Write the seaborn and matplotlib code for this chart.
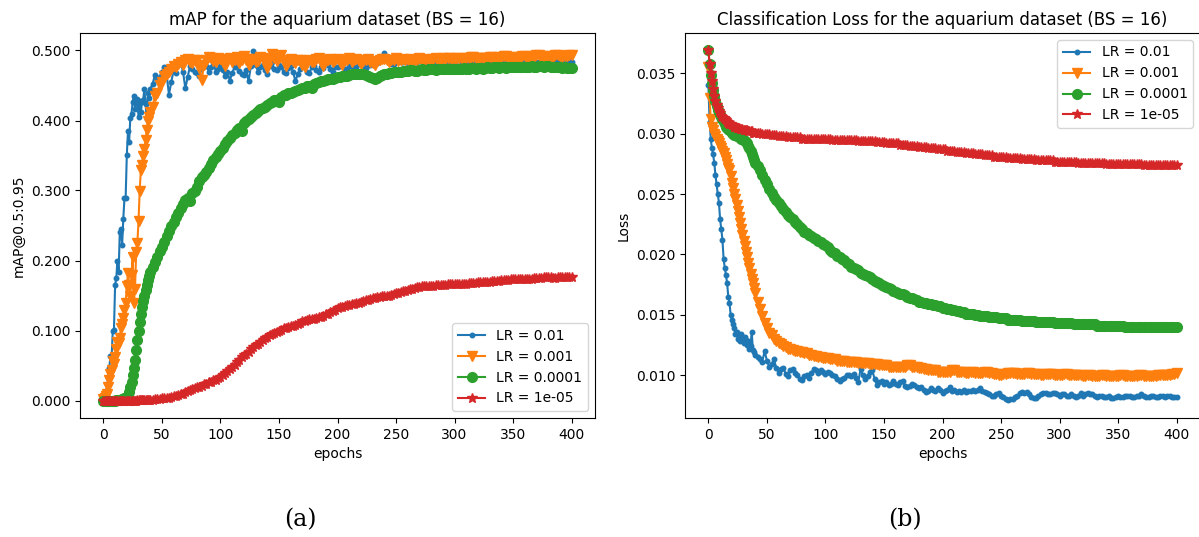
import matplotlib
matplotlib.use("Agg")
import matplotlib.pyplot as plt
import seaborn as sns
from matplotlib.ticker import FormatStrFormatter

# epochs: every epoch up to 39, then every 2nd epoch
epochs = list(range(0, 40)) + list(range(40, 401, 2))

labels = ["LR = 0.01", "LR = 0.001", "LR = 0.0001", "LR = 1e-05"]
markers = [".", "v", "o", "*"]
colors = ["#1f77b4", "#ff7f0e", "#2ca02c", "#d62728"]
msizes = [6.5, 7, 7, 7]

# mAP@0.5:0.95
map_lr_01 = [
    0.000, 0.000, 0.004, 0.015, 0.034, 0.046, 0.064, 0.062, 0.100, 0.101,
    0.165, 0.175, 0.200, 0.183, 0.241, 0.245, 0.222, 0.260, 0.289, 0.290,
    0.351, 0.385, 0.370, 0.404, 0.410, 0.427, 0.435, 0.416, 0.425, 0.431,
    0.405, 0.428, 0.412, 0.426, 0.430, 0.445, 0.424, 0.402, 0.440, 0.432,
    # 40..398 step 2
    0.445, 0.452, 0.465, 0.458, 0.462, 0.470, 0.476, 0.466, 0.437, 0.455,
    0.472, 0.468, 0.480, 0.483, 0.470, 0.446, 0.462, 0.478, 0.474, 0.470,
    0.468, 0.463, 0.475, 0.483, 0.478, 0.470, 0.476, 0.484, 0.470, 0.474,
    0.478, 0.472, 0.464, 0.470, 0.457, 0.468, 0.476, 0.481, 0.471, 0.466,
    0.465, 0.472, 0.456, 0.478, 0.500, 0.480, 0.470, 0.476, 0.480, 0.472,
    0.466, 0.478, 0.483, 0.474, 0.472, 0.479, 0.477, 0.470, 0.468, 0.475,
    0.478, 0.470, 0.456, 0.466, 0.474, 0.480, 0.479, 0.470, 0.468, 0.476,
    0.478, 0.472, 0.470, 0.477, 0.475, 0.482, 0.480, 0.474, 0.470, 0.476,
    0.476, 0.480, 0.479, 0.473, 0.472, 0.478, 0.478, 0.474, 0.477, 0.481,
    0.483, 0.478, 0.475, 0.480, 0.480, 0.484, 0.486, 0.482, 0.490, 0.486,
    0.496, 0.488, 0.484, 0.481, 0.481, 0.485, 0.487, 0.483, 0.484, 0.486,
    0.482, 0.485, 0.486, 0.483, 0.483, 0.486, 0.485, 0.482, 0.482, 0.485,
    0.486, 0.484, 0.484, 0.482, 0.483, 0.486, 0.487, 0.485, 0.485, 0.483,
    0.484, 0.486, 0.486, 0.484, 0.483, 0.485, 0.485, 0.483, 0.487, 0.485,
    0.484, 0.482, 0.486, 0.485, 0.483, 0.486, 0.485, 0.487, 0.488, 0.485,
    0.484, 0.486, 0.486, 0.484, 0.483, 0.485, 0.485, 0.483, 0.487, 0.486,
    0.484, 0.485, 0.486, 0.484, 0.485, 0.483, 0.483, 0.485, 0.486, 0.484,
    0.484, 0.486, 0.487, 0.485, 0.485, 0.484, 0.483, 0.485, 0.486, 0.485,
    0.484,
]
map_lr_001 = [
    0.002, 0.004, 0.006, 0.010, 0.020, 0.030, 0.038, 0.044, 0.056, 0.052,
    0.062, 0.073, 0.084, 0.082, 0.090, 0.103, 0.110, 0.118, 0.129, 0.140,
    0.163, 0.182, 0.165, 0.150, 0.180, 0.205, 0.139, 0.160, 0.212, 0.225,
    0.256, 0.300, 0.330, 0.337, 0.350, 0.360, 0.372, 0.387, 0.400, 0.405,
    # 40..398 step 2
    0.412, 0.420, 0.435, 0.440, 0.451, 0.455, 0.463, 0.466, 0.470, 0.474,
    0.478, 0.476, 0.481, 0.484, 0.480, 0.486, 0.488, 0.484, 0.482, 0.487,
    0.486, 0.475, 0.458, 0.480, 0.487, 0.491, 0.490, 0.485, 0.484, 0.489,
    0.488, 0.484, 0.478, 0.486, 0.490, 0.483, 0.486, 0.491, 0.482, 0.487,
    0.492, 0.486, 0.480, 0.488, 0.488, 0.483, 0.485, 0.491, 0.490, 0.484,
    0.475, 0.488, 0.495, 0.489, 0.485, 0.490, 0.494, 0.486, 0.478, 0.484,
    0.488, 0.485, 0.482, 0.487, 0.486, 0.480, 0.476, 0.484, 0.487, 0.483,
    0.484, 0.488, 0.489, 0.484, 0.478, 0.485, 0.486, 0.488, 0.483, 0.486,
    0.488, 0.484, 0.480, 0.486, 0.487, 0.489, 0.484, 0.487, 0.488, 0.485,
    0.481, 0.485, 0.486, 0.488, 0.484, 0.482, 0.480, 0.485, 0.486, 0.488,
    0.488, 0.486, 0.484, 0.487, 0.487, 0.489, 0.485, 0.486, 0.488, 0.487,
    0.486, 0.488, 0.484, 0.486, 0.487, 0.489, 0.485, 0.487, 0.488, 0.486,
    0.486, 0.488, 0.489, 0.487, 0.487, 0.489, 0.488, 0.490, 0.490, 0.488,
    0.488, 0.490, 0.490, 0.488, 0.487, 0.489, 0.489, 0.491, 0.491, 0.489,
    0.488, 0.490, 0.490, 0.489, 0.489, 0.491, 0.491, 0.490, 0.489, 0.491,
    0.490, 0.492, 0.492, 0.490, 0.489, 0.491, 0.491, 0.490, 0.490, 0.492,
    0.492, 0.491, 0.490, 0.492, 0.491, 0.493, 0.493, 0.491, 0.490, 0.492,
    0.492, 0.491, 0.491, 0.493, 0.493, 0.492, 0.491, 0.492, 0.492, 0.493,
    0.493,
]
map_lr_0001 = [
    0.000, 0.000, 0.000, 0.000, 0.000, 0.000, 0.000, 0.000, 0.000, 0.000,
    0.000, 0.001, 0.001, 0.001, 0.001, 0.001, 0.002, 0.002, 0.003, 0.003,
    0.004, 0.007, 0.012, 0.019, 0.027, 0.036, 0.046, 0.058, 0.072, 0.086,
    0.100, 0.112, 0.123, 0.133, 0.142, 0.150, 0.158, 0.165, 0.172, 0.178,
    # 40..398 step 2
    0.184, 0.191, 0.198, 0.205, 0.213, 0.220, 0.227, 0.235, 0.242, 0.249,
    0.255, 0.262, 0.268, 0.275, 0.281, 0.286, 0.290, 0.285, 0.296, 0.300,
    0.305, 0.313, 0.320, 0.322, 0.326, 0.332, 0.338, 0.343, 0.348, 0.352,
    0.357, 0.361, 0.366, 0.371, 0.375, 0.379, 0.382, 0.386, 0.390, 0.385,
    0.396, 0.399, 0.402, 0.405, 0.408, 0.411, 0.413, 0.416, 0.418, 0.420,
    0.422, 0.425, 0.427, 0.429, 0.430, 0.426, 0.434, 0.436, 0.437, 0.439,
    0.440, 0.441, 0.442, 0.444, 0.445, 0.446, 0.447, 0.449, 0.450, 0.446,
    0.452, 0.454, 0.455, 0.456, 0.457, 0.458, 0.459, 0.460, 0.460, 0.461,
    0.462, 0.462, 0.463, 0.464, 0.464, 0.465, 0.466, 0.466, 0.467, 0.467,
    0.466, 0.466, 0.465, 0.464, 0.462, 0.461, 0.460, 0.461, 0.463, 0.465,
    0.466, 0.467, 0.468, 0.468, 0.469, 0.469, 0.470, 0.470, 0.471, 0.471,
    0.471, 0.472, 0.472, 0.471, 0.471, 0.472, 0.473, 0.472, 0.472, 0.473,
    0.473, 0.473, 0.472, 0.473, 0.474, 0.474, 0.473, 0.473, 0.474, 0.474,
    0.474, 0.474, 0.473, 0.474, 0.475, 0.474, 0.474, 0.475, 0.475, 0.474,
    0.475, 0.475, 0.474, 0.475, 0.476, 0.475, 0.475, 0.476, 0.476, 0.475,
    0.476, 0.476, 0.475, 0.476, 0.476, 0.477, 0.476, 0.476, 0.477, 0.477,
    0.476, 0.477, 0.477, 0.478, 0.477, 0.477, 0.478, 0.478, 0.477, 0.478,
    0.478, 0.477, 0.477, 0.476, 0.476, 0.476, 0.475, 0.476, 0.475, 0.475,
    0.475,
]
map_lr_00001 = [
    0.000, 0.000, 0.000, 0.000, 0.000, 0.000, 0.000, 0.000, 0.000, 0.000,
    0.000, 0.000, 0.000, 0.000, 0.000, 0.000, 0.000, 0.000, 0.000, 0.000,
    0.000, 0.000, 0.000, 0.000, 0.000, 0.000, 0.000, 0.000, 0.000, 0.001,
    0.001, 0.001, 0.001, 0.001, 0.001, 0.001, 0.001, 0.001, 0.001, 0.001,
    # 40..398 step 2
    0.001, 0.001, 0.002, 0.002, 0.002, 0.003, 0.003, 0.004, 0.004, 0.005,
    0.006, 0.007, 0.008, 0.009, 0.010, 0.012, 0.013, 0.015, 0.016, 0.018,
    0.019, 0.020, 0.021, 0.023, 0.024, 0.026, 0.027, 0.029, 0.030, 0.032,
    0.034, 0.036, 0.039, 0.042, 0.045, 0.048, 0.051, 0.055, 0.058, 0.062,
    0.065, 0.067, 0.070, 0.073, 0.076, 0.079, 0.081, 0.084, 0.086, 0.089,
    0.091, 0.093, 0.095, 0.097, 0.098, 0.100, 0.101, 0.103, 0.104, 0.105,
    0.106, 0.107, 0.108, 0.110, 0.111, 0.113, 0.114, 0.115, 0.116, 0.116,
    0.117, 0.118, 0.119, 0.120, 0.121, 0.123, 0.124, 0.126, 0.128, 0.130,
    0.132, 0.133, 0.134, 0.135, 0.136, 0.137, 0.138, 0.138, 0.139, 0.140,
    0.141, 0.142, 0.143, 0.144, 0.145, 0.146, 0.147, 0.148, 0.148, 0.149,
    0.149, 0.150, 0.150, 0.151, 0.152, 0.153, 0.154, 0.155, 0.156, 0.157,
    0.158, 0.159, 0.160, 0.161, 0.162, 0.162, 0.163, 0.163, 0.163, 0.164,
    0.164, 0.164, 0.165, 0.165, 0.165, 0.165, 0.165, 0.166, 0.166, 0.166,
    0.166, 0.166, 0.167, 0.167, 0.167, 0.167, 0.168, 0.168, 0.168, 0.168,
    0.169, 0.169, 0.169, 0.170, 0.170, 0.170, 0.171, 0.171, 0.171, 0.171,
    0.172, 0.172, 0.172, 0.172, 0.173, 0.173, 0.173, 0.173, 0.174, 0.174,
    0.174, 0.174, 0.174, 0.174, 0.175, 0.175, 0.175, 0.175, 0.176, 0.176,
    0.176, 0.176, 0.175, 0.175, 0.176, 0.176, 0.177, 0.177, 0.176, 0.176,
    0.176,
]

# classification loss
loss_lr_01 = [
    0.0340, 0.0310, 0.0296, 0.0288, 0.0283, 0.0276, 0.0266, 0.0258, 0.0250, 0.0243,
    0.0229, 0.0221, 0.0212, 0.0196, 0.0189, 0.0183, 0.0176, 0.0165, 0.0160, 0.0150,
    0.0146, 0.0142, 0.0139, 0.0134, 0.0136, 0.0130, 0.0133, 0.0128, 0.0134, 0.0131,
    0.0127, 0.0132, 0.0129, 0.0125, 0.0128, 0.0122, 0.0124, 0.0136, 0.0121, 0.0119,
    # 40..398 step 2
    0.0117, 0.0115, 0.0113, 0.0111, 0.0120, 0.0112, 0.0107, 0.0109, 0.0113, 0.0106,
    0.0102, 0.0105, 0.0106, 0.0101, 0.0099, 0.0104, 0.0105, 0.0102, 0.0100, 0.0097,
    0.0096, 0.0099, 0.0100, 0.0098, 0.0102, 0.0105, 0.0104, 0.0102, 0.0104, 0.0103,
    0.0101, 0.0103, 0.0102, 0.0100, 0.0099, 0.0097, 0.0095, 0.0097, 0.0098, 0.0100,
    0.0100, 0.0099, 0.0101, 0.0098, 0.0094, 0.0105, 0.0100, 0.0097, 0.0099, 0.0103,
    0.0104, 0.0097, 0.0092, 0.0094, 0.0095, 0.0093, 0.0094, 0.0092, 0.0093, 0.0095,
    0.0093, 0.0092, 0.0094, 0.0095, 0.0091, 0.0090, 0.0091, 0.0093, 0.0092, 0.0090,
    0.0089, 0.0090, 0.0088, 0.0086, 0.0087, 0.0089, 0.0088, 0.0087, 0.0089, 0.0088,
    0.0085, 0.0087, 0.0088, 0.0090, 0.0087, 0.0088, 0.0086, 0.0087, 0.0086, 0.0088,
    0.0086, 0.0087, 0.0087, 0.0088, 0.0087, 0.0088, 0.0089, 0.0087, 0.0086, 0.0085,
    0.0084, 0.0083, 0.0083, 0.0084, 0.0085, 0.0083, 0.0082, 0.0080, 0.0079, 0.0080,
    0.0080, 0.0082, 0.0083, 0.0085, 0.0086, 0.0085, 0.0086, 0.0084, 0.0082, 0.0081,
    0.0081, 0.0083, 0.0084, 0.0085, 0.0085, 0.0084, 0.0084, 0.0085, 0.0085, 0.0084,
    0.0083, 0.0084, 0.0084, 0.0083, 0.0083, 0.0084, 0.0083, 0.0082, 0.0083, 0.0085,
    0.0083, 0.0084, 0.0085, 0.0084, 0.0084, 0.0083, 0.0082, 0.0083, 0.0083, 0.0082,
    0.0082, 0.0083, 0.0081, 0.0081, 0.0082, 0.0083, 0.0082, 0.0082, 0.0083, 0.0083,
    0.0083, 0.0082, 0.0082, 0.0083, 0.0083, 0.0084, 0.0083, 0.0082, 0.0082, 0.0083,
    0.0083, 0.0082, 0.0082, 0.0083, 0.0083, 0.0082, 0.0083, 0.0083, 0.0082, 0.0082,
    0.0082,
]
loss_lr_001 = [
    0.0355, 0.0330, 0.0312, 0.0306, 0.0303, 0.0300, 0.0298, 0.0296, 0.0294, 0.0292,
    0.0290, 0.0288, 0.0286, 0.0284, 0.0281, 0.0278, 0.0275, 0.0272, 0.0270, 0.0265,
    0.0259, 0.0255, 0.0250, 0.0246, 0.0241, 0.0236, 0.0231, 0.0226, 0.0221, 0.0216,
    0.0211, 0.0207, 0.0202, 0.0198, 0.0193, 0.0189, 0.0184, 0.0180, 0.0176, 0.0172,
    # 40..398 step 2
    0.0168, 0.0161, 0.0155, 0.0149, 0.0143, 0.0139, 0.0135, 0.0133, 0.0130, 0.0128,
    0.0127, 0.0126, 0.0124, 0.0123, 0.0122, 0.0122, 0.0121, 0.0120, 0.0120, 0.0119,
    0.0119, 0.0118, 0.0118, 0.0117, 0.0117, 0.0116, 0.0116, 0.0115, 0.0115, 0.0114,
    0.0114, 0.0114, 0.0113, 0.0113, 0.0113, 0.0112, 0.0112, 0.0112, 0.0112, 0.0111,
    0.0111, 0.0111, 0.0111, 0.0111, 0.0110, 0.0110, 0.0110, 0.0110, 0.0110, 0.0109,
    0.0109, 0.0109, 0.0109, 0.0108, 0.0108, 0.0108, 0.0108, 0.0107, 0.0107, 0.0107,
    0.0107, 0.0107, 0.0107, 0.0107, 0.0107, 0.0108, 0.0108, 0.0107, 0.0107, 0.0107,
    0.0106, 0.0106, 0.0105, 0.0105, 0.0104, 0.0104, 0.0104, 0.0104, 0.0103, 0.0103,
    0.0103, 0.0103, 0.0103, 0.0103, 0.0104, 0.0104, 0.0103, 0.0103, 0.0103, 0.0103,
    0.0102, 0.0102, 0.0103, 0.0103, 0.0102, 0.0102, 0.0102, 0.0102, 0.0103, 0.0103,
    0.0102, 0.0102, 0.0101, 0.0101, 0.0100, 0.0100, 0.0101, 0.0101, 0.0102, 0.0102,
    0.0102, 0.0102, 0.0101, 0.0101, 0.0101, 0.0101, 0.0102, 0.0102, 0.0101, 0.0101,
    0.0101, 0.0101, 0.0100, 0.0100, 0.0101, 0.0101, 0.0101, 0.0101, 0.0100, 0.0100,
    0.0100, 0.0100, 0.0101, 0.0101, 0.0100, 0.0100, 0.0100, 0.0100, 0.0100, 0.0100,
    0.0099, 0.0099, 0.0100, 0.0100, 0.0099, 0.0099, 0.0099, 0.0099, 0.0100, 0.0100,
    0.0099, 0.0099, 0.0099, 0.0099, 0.0099, 0.0099, 0.0100, 0.0100, 0.0099, 0.0099,
    0.0099, 0.0099, 0.0099, 0.0099, 0.0100, 0.0100, 0.0099, 0.0099, 0.0099, 0.0099,
    0.0099, 0.0099, 0.0100, 0.0100, 0.0100, 0.0100, 0.0100, 0.0100, 0.0101, 0.0101,
    0.0102,
]
loss_lr_0001 = [
    0.0369, 0.0358, 0.0349, 0.0342, 0.0336, 0.0331, 0.0327, 0.0323, 0.0320, 0.0318,
    0.0316, 0.0314, 0.0312, 0.0310, 0.0308, 0.0306, 0.0305, 0.0304, 0.0303, 0.0302,
    0.0301, 0.0300, 0.0299, 0.0299, 0.0298, 0.0298, 0.0297, 0.0297, 0.0296, 0.0296,
    0.0295, 0.0294, 0.0293, 0.0292, 0.0290, 0.0288, 0.0286, 0.0283, 0.0281, 0.0278,
    # 40..398 step 2
    0.0276, 0.0273, 0.0270, 0.0266, 0.0262, 0.0258, 0.0254, 0.0251, 0.0248, 0.0245,
    0.0243, 0.0240, 0.0238, 0.0235, 0.0233, 0.0231, 0.0229, 0.0227, 0.0225, 0.0223,
    0.0221, 0.0219, 0.0218, 0.0216, 0.0215, 0.0214, 0.0213, 0.0211, 0.0210, 0.0209,
    0.0208, 0.0206, 0.0204, 0.0202, 0.0201, 0.0199, 0.0198, 0.0196, 0.0195, 0.0193,
    0.0192, 0.0190, 0.0189, 0.0188, 0.0187, 0.0185, 0.0184, 0.0183, 0.0182, 0.0181,
    0.0180, 0.0178, 0.0177, 0.0176, 0.0175, 0.0174, 0.0173, 0.0172, 0.0171, 0.0170,
    0.0169, 0.0168, 0.0167, 0.0167, 0.0166, 0.0165, 0.0164, 0.0164, 0.0163, 0.0162,
    0.0161, 0.0161, 0.0160, 0.0160, 0.0159, 0.0159, 0.0158, 0.0158, 0.0157, 0.0157,
    0.0156, 0.0156, 0.0155, 0.0155, 0.0154, 0.0154, 0.0153, 0.0153, 0.0152, 0.0152,
    0.0151, 0.0151, 0.0151, 0.0151, 0.0150, 0.0150, 0.0149, 0.0149, 0.0149, 0.0149,
    0.0148, 0.0148, 0.0148, 0.0148, 0.0147, 0.0147, 0.0147, 0.0147, 0.0146, 0.0146,
    0.0146, 0.0146, 0.0146, 0.0146, 0.0145, 0.0145, 0.0145, 0.0145, 0.0145, 0.0145,
    0.0144, 0.0144, 0.0144, 0.0144, 0.0144, 0.0144, 0.0144, 0.0144, 0.0143, 0.0143,
    0.0143, 0.0143, 0.0143, 0.0143, 0.0143, 0.0143, 0.0142, 0.0142, 0.0142, 0.0142,
    0.0142, 0.0142, 0.0142, 0.0142, 0.0142, 0.0142, 0.0141, 0.0141, 0.0141, 0.0141,
    0.0141, 0.0141, 0.0141, 0.0141, 0.0141, 0.0141, 0.0141, 0.0141, 0.0140, 0.0140,
    0.0140, 0.0140, 0.0140, 0.0140, 0.0140, 0.0140, 0.0140, 0.0140, 0.0140, 0.0140,
    0.0140, 0.0140, 0.0140, 0.0140, 0.0140, 0.0140, 0.0140, 0.0140, 0.0140, 0.0140,
    0.0140,
]
loss_lr_00001 = [
    0.0369, 0.0358, 0.0350, 0.0344, 0.0337, 0.0331, 0.0327, 0.0324, 0.0321, 0.0319,
    0.0317, 0.0315, 0.0314, 0.0313, 0.0312, 0.0311, 0.0310, 0.0309, 0.0308, 0.0308,
    0.0307, 0.0307, 0.0306, 0.0306, 0.0305, 0.0305, 0.0305, 0.0304, 0.0304, 0.0304,
    0.0303, 0.0303, 0.0303, 0.0303, 0.0302, 0.0302, 0.0302, 0.0302, 0.0301, 0.0301,
    # 40..398 step 2
    0.0301, 0.0301, 0.0301, 0.0300, 0.0300, 0.0300, 0.0300, 0.0299, 0.0299, 0.0299,
    0.0298, 0.0298, 0.0298, 0.0298, 0.0297, 0.0297, 0.0297, 0.0297, 0.0297, 0.0297,
    0.0296, 0.0296, 0.0296, 0.0296, 0.0296, 0.0296, 0.0296, 0.0296, 0.0296, 0.0296,
    0.0296, 0.0296, 0.0296, 0.0295, 0.0295, 0.0295, 0.0295, 0.0295, 0.0295, 0.0295,
    0.0295, 0.0295, 0.0295, 0.0295, 0.0294, 0.0294, 0.0294, 0.0294, 0.0294, 0.0294,
    0.0294, 0.0294, 0.0293, 0.0293, 0.0293, 0.0293, 0.0292, 0.0292, 0.0292, 0.0292,
    0.0292, 0.0292, 0.0291, 0.0291, 0.0291, 0.0291, 0.0290, 0.0290, 0.0290, 0.0290,
    0.0289, 0.0289, 0.0289, 0.0289, 0.0288, 0.0288, 0.0288, 0.0288, 0.0287, 0.0287,
    0.0287, 0.0287, 0.0286, 0.0286, 0.0286, 0.0286, 0.0285, 0.0285, 0.0285, 0.0285,
    0.0284, 0.0284, 0.0284, 0.0284, 0.0283, 0.0283, 0.0283, 0.0283, 0.0282, 0.0282,
    0.0282, 0.0282, 0.0281, 0.0281, 0.0281, 0.0281, 0.0281, 0.0281, 0.0280, 0.0280,
    0.0280, 0.0280, 0.0280, 0.0280, 0.0279, 0.0279, 0.0279, 0.0279, 0.0279, 0.0279,
    0.0278, 0.0278, 0.0278, 0.0278, 0.0278, 0.0278, 0.0278, 0.0278, 0.0277, 0.0277,
    0.0277, 0.0277, 0.0277, 0.0277, 0.0277, 0.0277, 0.0277, 0.0277, 0.0276, 0.0276,
    0.0276, 0.0276, 0.0276, 0.0276, 0.0276, 0.0276, 0.0276, 0.0276, 0.0276, 0.0276,
    0.0275, 0.0275, 0.0275, 0.0275, 0.0275, 0.0275, 0.0275, 0.0275, 0.0275, 0.0275,
    0.0275, 0.0275, 0.0275, 0.0275, 0.0275, 0.0275, 0.0274, 0.0274, 0.0274, 0.0274,
    0.0274, 0.0274, 0.0274, 0.0274, 0.0274, 0.0274, 0.0274, 0.0274, 0.0274, 0.0274,
    0.0274,
]

map_series = [map_lr_01, map_lr_001, map_lr_0001, map_lr_00001]
loss_series = [loss_lr_01, loss_lr_001, loss_lr_0001, loss_lr_00001]
for s in map_series + loss_series:
    assert len(s) == len(epochs), len(s)

fig = plt.figure(figsize=(11.99, 5.37), dpi=100)
ax1 = fig.add_axes([80 / 1199, 1 - 418 / 537, 515 / 1199, 385 / 537])
ax2 = fig.add_axes([685 / 1199, 1 - 418 / 537, 515 / 1199, 385 / 537])

for ax, series in [(ax1, map_series), (ax2, loss_series)]:
    for vals, lab, m, c, ms in zip(series, labels, markers, colors, msizes):
        sns.lineplot(x=epochs, y=vals, ax=ax, marker=m, color=c, label=lab,
                     markersize=ms, markeredgecolor=c, markeredgewidth=1,
                     linewidth=1.5)

ax1.set_title("mAP for the aquarium dataset (BS = 16)", fontsize=12)
ax1.set_xlabel("epochs")
ax1.set_ylabel("mAP@0.5:0.95")
ax1.yaxis.set_major_formatter(FormatStrFormatter("%.3f"))
ax1.legend(loc="lower right")

ax2.set_title("Classification Loss for the aquarium dataset (BS = 16)", fontsize=12)
ax2.set_xlabel("epochs")
ax2.set_ylabel("Loss")
ax2.yaxis.set_major_formatter(FormatStrFormatter("%.3f"))
ax2.legend(loc="upper right")

fig.text(300 / 1199, 1 - 520 / 537, "(a)", ha="center", va="center",
         family="DejaVu Serif", fontsize=17)
fig.text(905 / 1199, 1 - 520 / 537, "(b)", ha="center", va="center",
         family="DejaVu Serif", fontsize=17)

fig.savefig("out.png", dpi=100)
